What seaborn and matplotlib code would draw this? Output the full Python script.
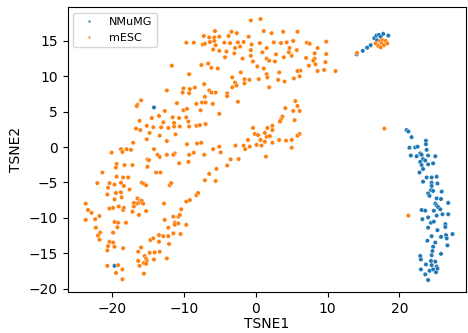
import pandas as pd
import matplotlib
matplotlib.use("Agg")
import matplotlib.pyplot as plt
import seaborn as sns

# points (TSNE1, TSNE2)
mesc_x = [
    -9.7, -8.65, -11.7, -9.3, -10.1, -9.2, -8.5, -12.4, -10.2, -9.3, -16.0, -16.5, -16.6, -11.0, -8.3,
    -12.7, -10.1, -9.6, -13.5, -14.5, -16.2, -11.6, -10.7, -9.7, -12.9, -11.4, -9.4, -15.2, -14.3, -13.2,
    -16.7, -16.1, -12.2, -11.4, -10.6, -9.3, -8.3, -14.8, -13.4, -11.2, -17.1, -15.2, -14.2, -9.6, -8.2,
    -18.8, -18.0,
    -0.7, 0.65, 1.1, 2.2, 3.8, 5.8, -5.7, -7.25, -6.5, -5.8, -5.1, -3.8, -3.4, -2.65, -1.0, -7.4, -7.1,
    -6.4, -5.8, -5.6, -4.4, -3.6, -2.5, -1.7, -0.6, 0.55, 2.5, 3.5, 4.3, 5.2, 7.1, 7.5, 9.8, -5.95, -5.1,
    -4.1, -2.9, -2.2, -0.7, -3.0, 0.9, 1.5, 2.8, 4.7, 5.7, 4.6, 3.9, 5.0, 8.6, 8.2, 7.0, 8.2, 9.8, -4.3,
    -1.85, -0.7, 1.5, 1.85, 2.65, -0.4, 8.0, 8.3, 7.4, 9.7, -7.6, -6.65, -6.2, -5.3, 0.2, 1.1, 6.2, 5.8,
    8.6, 9.5, 11.1, -2.1, 1.5, 1.6, 3.25, 6.1, 5.3, -3.3, -1.6, -0.9, 0.4, 3.1, 4.0, -2.9, -1.6, -7.2,
    -3.3, -2.7, 1.85, -6.5, -6.2, -5.6, -4.0, -4.0, -7.1, -7.5, -7.0, -6.0, -2.5, -7.7, -5.1, 5.5, 5.2,
    6.1, 5.8, 4.1, 3.7, 3.5, 3.35, 5.4, 2.3, 2.3, 1.6, -0.4, -7.8, -7.0, -0.15, 0.3, 1.25, 1.5, 1.95, 6.1,
    5.8, -1.1, 0.65, 1.25, 2.3, 3.25, 4.2, 5.0, -2.85, -1.7, -0.85, 0.1, 0.8, -5.1, -7.6, -5.95, -1.5,
    -7.2, -4.9, -3.5, -2.4, -4.0, 1.4, -5.5, -6.5, -7.1, -5.6, 5.0,
    -12.4, -20.1, -18.6, -17.4, -13.7, -13.4, -12.4, -11.3, -11.5, -9.3, -8.65, -15.1, -14.9, -10.7, -9.4,
    -19.4, -19.5, -18.3, -17.2, -15.1, -13.9, -13.3, -8.3, -8.05, -21.4, -19.4, -18.5, -17.8, -22.1, -20.4,
    -19.7, -18.8, -18.4, -17.6, -15.9, -15.6, -15.3, -12.0, -11.8, -20.6, -19.5, -18.8, -20.7, -19.7, -18.7,
    -16.5, -16.2, -16.3, -16.6, -17.0, -15.9, -15.7, -12.8, -9.7, -9.2, -10.4, -20.4, -19.9, -19.1, -18.5,
    -18.4, -17.0, -17.2, -16.3, -15.3, -23.7, -23.4, -22.9, -23.7, -22.4, -21.8, -19.7, -19.2, -18.1, -12.7,
    -11.5, -10.8, -10.6, -11.3, -11.3, -10.8, -9.7, -22.3, -19.3, -21.7, -22.0, -21.8, -19.9, -12.2, -13.5,
    -12.9, -12.2, -11.5, -10.5, -14.7, -14.3, -13.5, -12.1, -20.4, -19.9, -20.6, -20.7, -19.7, -18.5, -16.0,
    -14.8, -14.1, -13.4, -15.5, -15.3, -15.2, -16.4, -14.2, -12.4, -16.4, -15.6, -15.3, -16.2, -20.7, -19.2,
    -18.6, -19.5, -15.6, -18.6,
    14.1, 16.7, 17.3, 17.7, 18.1, 17.5, 17.85, 17.05, 17.4, 18.3, 17.9, 21.25,
]
mesc_y = [
    14.75, 14.75, 11.5, 10.3, 8.3, 8.2, 8.4, 8.0, 7.7, 7.6, 6.6, 6.0, 5.8, 6.2, 6.1,
    5.1, 5.2, 5.4, 4.4, 4.1, 3.7, 4.2, 4.1, 4.2, 3.5, 3.4, 3.6, 3.0, 2.8, 2.8,
    2.6, 2.4, 2.7, 2.9, 2.9, 2.9, 3.0, 2.0, 1.6, 1.8, 0.6, 1.1, -0.3, 0.4, 0.5,
    -0.3, -0.3,
    17.9, 18.1, 16.4, 16.1, 16.3, 16.3, 16.4, 15.7, 15.5, 15.5, 15.6, 15.7, 16.3, 16.1, 15.6, 14.5, 14.6,
    14.85, 15.0, 14.4, 14.75, 14.7, 14.8, 14.85, 14.5, 14.7, 14.8, 14.7, 14.8, 15.0, 14.75, 14.6, 14.9, 13.8, 13.6,
    13.5, 14.0, 14.2, 13.7, 13.25, 13.4, 14.0, 13.1, 14.0, 13.7, 13.4, 12.7, 12.9, 14.0, 13.25, 12.6, 12.5, 13.15, 12.7,
    12.5, 12.9, 12.5, 12.2, 12.1, 12.1, 12.2, 11.7, 11.5, 12.0, 11.6, 11.8, 11.2, 11.1, 11.4, 11.1, 10.8, 10.75,
    10.75, 10.9, 10.75, 10.55, 10.3, 9.85, 10.55, 10.0, 9.7, 9.85, 9.6, 9.5, 9.6, 9.5, 9.25, 9.1, 9.0, 8.9,
    8.45, 8.7, 8.45, 8.0, 7.7, 7.7, 7.6, 7.2, 7.1, 6.3, 6.3, 6.1, 6.4, 5.2, 4.7, 6.5, 5.1,
    5.1, 5.8, 5.5, 4.3, 3.9, 3.6, 3.8, 3.0, 2.4, 2.7, 2.7, 3.1, 3.25, 1.85, 1.7, 2.0, 1.45, 1.55, 1.85,
    1.6, 1.0, 1.0, 0.75, 0.6, 1.0, 0.9, 1.0, 0.2, 0.2, 0.05, 0.3, 0.2, 0.05, 0.6, -0.3, -0.3,
    -1.1, -0.75, -1.75, -1.7, -2.6, -1.35, -3.1, -3.8, -4.7, -4.8, -0.1,
    0.85, -0.8, -0.7, -0.4, -1.1, -1.4, -1.1, -0.9, -1.1, -1.1, -0.8, -1.75, -1.85, -2.3, -2.1,
    -2.4, -2.9, -2.55, -2.55, -2.8, -3.6, -3.6, -6.8, -6.5, -3.6, -4.2, -4.3, -4.3, -5.1, -5.1,
    -5.3, -5.05, -5.5, -6.0, -5.05, -5.2, -5.4, -5.4, -5.1, -5.75, -6.5, -6.4, -6.7, -7.4, -7.1,
    -7.25, -7.6, -7.9, -8.0, -7.9, -7.6, -8.0, -8.0, -7.7, -7.5, -8.8, -8.7, -8.6, -8.4, -8.9,
    -8.6, -8.4, -9.15, -9.6, -9.05, -8.0, -8.9, -9.3, -10.3, -10.2, -9.75, -10.6, -10.7, -10.7, -10.3,
    -9.85, -9.85, -9.6, -10.7, -11.0, -10.8, -11.0, -11.4, -11.35, -12.1, -12.5, -13.1, -12.1, -11.4, -12.45,
    -12.6, -12.6, -12.2, -12.3, -13.15, -12.9, -13.4, -13.7, -13.4, -13.5, -14.0, -14.6, -14.1, -14.3, -14.2,
    -14.95, -14.9, -14.8, -15.4, -15.75, -16.1, -14.8, -15.9, -15.75, -16.1, -16.4, -16.5, -16.8, -16.8, -16.7,
    -17.3, -17.8, -17.9, -18.7,
    13.3, 14.65, 15.0, 15.1, 15.0, 14.65, 14.4, 14.3, 14.1, 14.65, 2.6, -9.7,
]

nmumg_x = [
    -14.2, -19.7,
    14.05, 14.9, 15.5, 16.0, 16.5, 16.8, 17.15, 17.4, 17.75, 18.45, 16.9, 21.0, 21.25, 21.7,
    23.7, 21.4, 22.2, 22.55, 23.7, 23.8, 22.9, 23.1, 21.6, 22.4, 24.0, 25.0, 23.3, 23.6, 22.9,
    24.0, 24.7, 23.1, 23.3, 22.8, 23.8, 24.5, 25.2, 23.3, 24.5, 25.3, 24.5, 24.4, 24.0, 24.2,
    24.7, 25.9, 25.2, 25.8, 26.8, 25.0, 25.2, 25.4, 25.7, 23.1, 23.6, 24.8, 26.0, 26.8, 25.2,
    24.0, 23.2, 24.4, 24.8, 26.4, 26.4, 24.0, 25.3, 24.5, 25.8, 26.5, 26.6, 27.4, 23.9, 25.0,
    26.7, 24.7, 24.6, 25.8, 24.5, 22.9, 23.0, 23.7, 24.4, 25.0, 24.5, 25.2, 25.3, 23.0, 24.2,
    24.7, 25.1, 23.6, 24.0,
]
nmumg_y = [
    5.6, -16.8,
    13.1, 13.6, 14.05, 14.4, 15.4, 15.75, 15.85, 15.6, 16.0, 15.75, 15.1, 2.4, 2.2, 1.4,
    0.9, -0.1, -0.05, 0.05, 0.4, -0.4, -0.9, -1.1, -1.2, -1.3, -1.2, -1.3, -1.7, -1.9, -2.1,
    -2.45, -2.3, -2.55, -3.1, -3.6, -4.3, -4.3, -4.2, -4.9, -5.05, -5.15, -5.5, -6.1, -6.55, -6.9,
    -6.2, -6.3, -7.25, -7.35, -7.9, -8.0, -8.25, -8.5, -8.8, -8.9, -9.0, -9.0, -9.5, -9.5, -9.7,
    -9.95, -10.2, -10.7, -10.55, -10.9, -11.3, -11.4, -11.75, -12.6, -12.7, -12.45, -12.9, -12.3, -13.25, -13.5,
    -13.9, -14.1, -14.7, -15.1, -15.3, -15.4, -15.9, -16.6, -16.1, -16.2, -16.7, -16.9, -17.2, -17.3, -17.5,
    -17.3, -17.7, -18.0, -18.8,
]

df = pd.concat([
    pd.DataFrame({"TSNE1": nmumg_x, "TSNE2": nmumg_y, "cell": "NMuMG"}),
    pd.DataFrame({"TSNE1": mesc_x, "TSNE2": mesc_y, "cell": "mESC"}),
])

fig, ax = plt.subplots(figsize=(4.68, 3.33), dpi=100)
sns.scatterplot(x="TSNE1", y="TSNE2", hue="cell", data=df, s=10,
                hue_order=["NMuMG", "mESC"], ax=ax)
handles, labels = ax.get_legend_handles_labels()
ax.legend(handles, labels, loc="upper left", fontsize=8, markerscale=0.6)

ax.set_xlim(-26.2, 29.3)
ax.set_ylim(-20.5, 19.8)
ax.set_xticks([-20, -10, 0, 10, 20])
ax.set_yticks([-20, -15, -10, -5, 0, 5, 10, 15])
ax.set_xlabel("TSNE1", labelpad=1)
fig.subplots_adjust(left=0.145, right=0.996, bottom=0.123, top=0.979)
fig.savefig("out.png")
